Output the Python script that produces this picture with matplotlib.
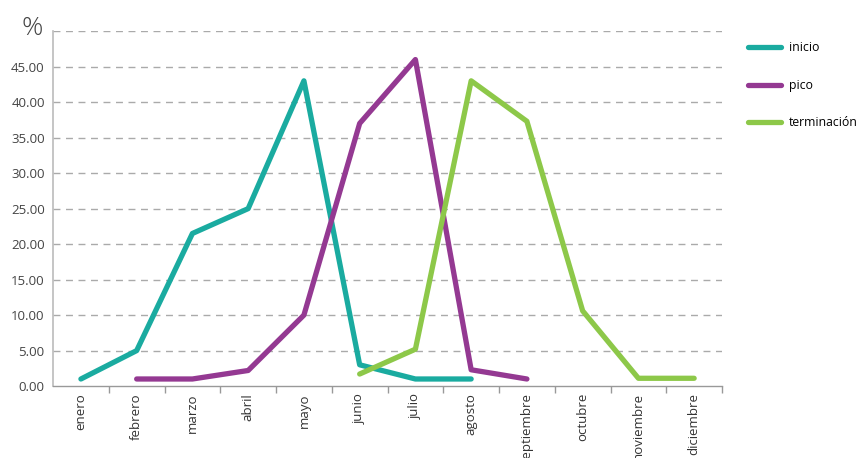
import numpy as np
import matplotlib.pyplot as plt

plt.rcParams['font.family'] = ['Open Sans', 'DejaVu Sans']

meses = ["enero", "febrero", "marzo", "abril", "mayo", "junio", "julio",
         "agosto", "septiembre", "octubre", "noviembre", "diciembre"]
nan = np.nan
inicio = [1.0, 5.0, 21.5, 25.0, 43.0, 3.0, 1.0, 1.0, nan, nan, nan, nan]
pico = [nan, 1.0, 1.0, 2.2, 10.0, 37.0, 46.0, 2.3, 1.0, nan, nan, nan]
terminacion = [nan, nan, nan, nan, nan, 1.7, 5.2, 43.0, 37.3, 10.6, 1.1, 1.1]
yticks = [0, 5, 10, 15, 20, 25, 30, 35, 40, 45]

fig = plt.figure(figsize=(8.61, 4.58), dpi=100)
ax = fig.add_axes([0.0616, 0.157, 0.777, 0.775])

x = np.arange(len(meses))
ax.plot(x, inicio, color="#1aaba0", lw=3.8, solid_capstyle="round", label="inicio")
ax.plot(x, pico, color="#943992", lw=3.8, solid_capstyle="round", label="pico")
ax.plot(x, terminacion, color="#8dc849", lw=3.8, solid_capstyle="round", label="terminación")

ax.set_xlim(-0.5, 11.5)
ax.set_ylim(0, 50)
for y in yticks[1:] + [50]:
    ax.axhline(y, color="#aaaaaa", lw=1.0, ls=(0, (5, 4)), zorder=0)

ax.set_yticks(yticks)
ax.set_yticklabels([f"{v:.2f}" for v in yticks], fontsize=9.5, color="#444444")
ax.tick_params(axis="y", length=0, pad=6)

ax.set_xticks(x)
ax.set_xticklabels(meses, rotation=90, fontsize=9.5, color="#333333")
ax.tick_params(axis="x", which="major", length=0, pad=5)
ax.set_xticks(np.arange(12) + 0.5, minor=True)
ax.tick_params(axis="x", which="minor", length=5, color="#999999", width=1)

for s in ["top", "right"]:
    ax.spines[s].set_visible(False)
ax.spines["left"].set_color("#bbbbbb")
ax.spines["left"].set_linewidth(1.2)
ax.spines["bottom"].set_color("#999999")
ax.spines["bottom"].set_linewidth(1.0)

fig.text(0.037, 0.937, "%", fontsize=19, color="#444444", ha="center", va="center",
         fontweight="light")

ax.legend(loc="upper left", bbox_to_anchor=(1.032, 0.985), frameon=False,
          fontsize=8.8, handlelength=2.7, handletextpad=0.6, labelspacing=2.0,
          borderaxespad=0)

fig.savefig("out.png", dpi=100)
